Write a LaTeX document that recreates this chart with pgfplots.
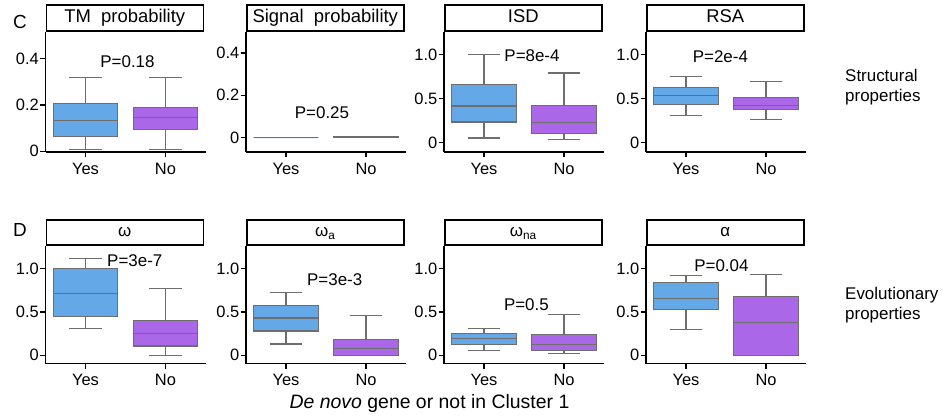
\documentclass[border=0pt]{standalone}
\usepackage{pgfplots}
\pgfplotsset{compat=1.18}
\usepgfplotslibrary{statistics}
\usepackage{fontspec}
\setmainfont{Liberation Sans}
\definecolor{boxblue}{RGB}{100,168,232}
\definecolor{boxpurple}{RGB}{170,104,232}
\definecolor{edgegray}{RGB}{110,110,110}
\tikzset{plab/.style={font=\fontsize{17}{17}\selectfont, inner sep=0pt}}
\pgfplotsset{
  panel/.style={
    scale only axis, width=160bp, height=120bp,
    anchor=south west,
    axis x line*=bottom, axis y line*=left,
    axis line style={line width=1.4bp, black, -},
    xmin=0.5, xmax=2.5,
    xtick={1,2}, xticklabels={Yes,No},
    tick align=outside, major tick length=5.5bp,
    tick style={line width=1.3bp, black},
    ticklabel style={font=\fontsize{16.5}{16.5}\selectfont},
    xticklabel style={inner sep=1bp, yshift=-4bp},
    yticklabel style={inner sep=1bp},
    clip=false,
    boxplot/draw direction=y,
    title style={draw, line width=1.5bp, minimum width=157bp, inner sep=0pt,
      at={(0,1)}, anchor=south west, yshift=-6pt},
  },
  toprow/.style={height=120bp, title style={minimum height=26bp,
      font=\fontsize{18.5}{18.5}\selectfont, text height=13.5bp, text depth=4bp}},
  botrow/.style={height=118bp, title style={minimum height=25bp,
      font=\fontsize{17}{17}\selectfont, text height=12bp, text depth=3.5bp}},
  yes/.style={draw=edgegray, fill=boxblue, line width=1.1bp},
  no/.style={draw=edgegray, fill=boxpurple, line width=1.1bp},
}
\newcommand{\bx}[7]{%
  \addplot[#1, boxplot prepared={lower whisker=#3, lower quartile=#4, median=#5,
    upper quartile=#6, upper whisker=#7, draw position=#2, draw direction=y,
    box extend=0.81, whisker extend=0.41}] coordinates {};}
\begin{document}
\begin{tikzpicture}[x=1bp,y=1bp]
\useasboundingbox (0,0) rectangle (943,416);
% ---------------- Row C ----------------
\begin{axis}[panel, toprow, at={(45.5bp,264bp)}, title={TM\ \ probability},
  ymin=-0.003, ymax=0.516, ytick={0,0.2,0.4}, yticklabels={0,0.2,0.4}]
\bx{yes}{1}{0.009}{0.065}{0.133}{0.208}{0.321}
\bx{no}{2}{0.009}{0.095}{0.145}{0.188}{0.321}
\node[plab] at (axis cs:1.525,0.387) {P=0.18};
\end{axis}
\begin{axis}[panel, toprow, at={(246bp,264bp)}, title={Signal\ \ probability},
  ymin=-0.0675, ymax=0.499, ytick={0,0.2,0.4}, yticklabels={0,0.2,0.4}]
\bx{yes}{1}{0}{0}{0}{0}{0}
\bx{no}{2}{0}{0}{0.002}{0.004}{0.006}
\node[plab] at (axis cs:1.45,0.118) {P=0.25};
\end{axis}
\begin{axis}[panel, toprow, at={(444bp,264bp)}, title={ISD},
  ymin=-0.106, ymax=1.258, ytick={0,0.5,1}, yticklabels={0,0.5,1.0}]
\bx{yes}{1}{0.053}{0.235}{0.417}{0.659}{1.0}
\bx{no}{2}{0.034}{0.107}{0.232}{0.425}{0.792}
\node[plab] at (axis cs:1.6,0.989) {P=8e-4};
\end{axis}
\begin{axis}[panel, toprow, at={(646bp,264bp)}, title={RSA},
  ymin=-0.106, ymax=1.258, ytick={0,0.5,1}, yticklabels={0,0.5,1.0}]
\bx{yes}{1}{0.311}{0.436}{0.534}{0.625}{0.75}
\bx{no}{2}{0.266}{0.372}{0.425}{0.511}{0.70}
\node[plab] at (axis cs:1.43,0.977) {P=2e-4};
\end{axis}
% ---------------- Row D ----------------
\begin{axis}[panel, botrow, at={(45.5bp,52.5bp)}, title={ω},
  ymin=-0.094, ymax=1.264, ytick={0,0.5,1}, yticklabels={0,0.5,1.0}]
\bx{yes}{1}{0.31}{0.448}{0.716}{1.0}{1.11}
\bx{no}{2}{0.0}{0.107}{0.248}{0.402}{0.774}
\node[plab] at (axis cs:1.616,1.095) {P=3e-7};
\end{axis}
\begin{axis}[panel, botrow, at={(246bp,52.5bp)}, title={ω\textsubscript{a}},
  ymin=-0.094, ymax=1.264, ytick={0,0.5,1}, yticklabels={0,0.5,1.0}]
\bx{yes}{1}{0.13}{0.28}{0.43}{0.573}{0.723}
\bx{no}{2}{0.0}{0.0}{0.077}{0.185}{0.46}
\node[plab] at (axis cs:1.609,0.873) {P=3e-3};
\end{axis}
\begin{axis}[panel, botrow, at={(444bp,52.5bp)}, title={ω\textsubscript{na}},
  ymin=-0.094, ymax=1.264, ytick={0,0.5,1}, yticklabels={0,0.5,1.0}]
\bx{yes}{1}{0.06}{0.126}{0.19}{0.253}{0.314}
\bx{no}{2}{0.018}{0.057}{0.126}{0.241}{0.467}
\node[plab] at (axis cs:1.53,0.586) {P=0.5};
\end{axis}
\begin{axis}[panel, botrow, at={(646bp,52.5bp)}, title={α},
  ymin=-0.094, ymax=1.264, ytick={0,0.5,1}, yticklabels={0,0.5,1.0}]
\bx{yes}{1}{0.302}{0.532}{0.65}{0.834}{0.92}
\bx{no}{2}{0.0}{0.0}{0.375}{0.674}{0.926}
\node[plab] at (axis cs:1.443,1.03) {P=0.04};
\end{axis}
% ---------------- Texts ----------------
\node[font=\fontsize{19}{19}\selectfont] at (20,394.5) {C};
\node[font=\fontsize{19}{19}\selectfont] at (20,186) {D};
\node[anchor=west, align=left, font=\fontsize{17}{20}\selectfont, inner sep=0pt] at (845,329.3) {Structural\\properties};
\node[anchor=west, align=left, font=\fontsize{17}{20}\selectfont, inner sep=0pt] at (845,111.3) {Evolutionary\\properties};
\node[font=\fontsize{19.5}{19.5}\selectfont] at (429.5,13) {\textit{De novo} gene or not in Cluster 1};
\end{tikzpicture}
\end{document}
